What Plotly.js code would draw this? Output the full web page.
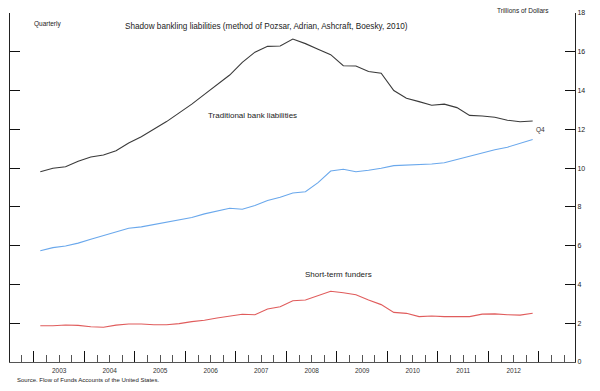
<!DOCTYPE html>
<html>
<head>
<meta charset="utf-8">
<script src="https://cdn.plot.ly/plotly-3.0.1.min.js"></script>
<style>html,body{margin:0;padding:0;background:#fff;}#chart{width:600px;height:391px;}</style>
</head>
<body>
<div id="chart"></div>
<script>
// Quarterly observations 2003Q1 .. 2012Q4
const years = [2003,2004,2005,2006,2007,2008,2009,2010,2011,2012];
const quarters = [1,2,3,4];
const yearLabels = ["2003","2004","2005","2006","2007","2008","2009","2010","2011","2012"];

const shadowBanking = [
  9.81, 9.99, 10.07, 10.35, 10.57, 10.68, 10.90, 11.30, 11.62, 12.00,
  12.40, 12.85, 13.30, 13.80, 14.30, 14.80, 15.45, 15.98, 16.28, 16.30,
  16.66, 16.42, 16.13, 15.85, 15.28, 15.27, 14.98, 14.89, 14.00, 13.60,
  13.43, 13.24, 13.30, 13.12, 12.72, 12.69, 12.62, 12.47, 12.39, 12.43
];
const traditionalBank = [
  5.74, 5.90, 5.98, 6.13, 6.33, 6.53, 6.71, 6.90, 6.97, 7.09,
  7.21, 7.31, 7.45, 7.64, 7.79, 7.93, 7.88, 8.07, 8.33, 8.50,
  8.72, 8.78, 9.25, 9.85, 9.94, 9.81, 9.89, 9.99, 10.13, 10.16,
  10.18, 10.21, 10.28, 10.45, 10.59, 10.78, 10.95, 11.08, 11.26, 11.48
];
const shortTermFunders = [
  1.87, 1.87, 1.91, 1.89, 1.82, 1.79, 1.90, 1.96, 1.96, 1.92,
  1.92, 1.98, 2.08, 2.15, 2.27, 2.38, 2.46, 2.44, 2.73, 2.85,
  3.16, 3.20, 3.42, 3.65, 3.57, 3.47, 3.20, 2.96, 2.56, 2.51,
  2.34, 2.37, 2.34, 2.34, 2.34, 2.47, 2.48, 2.44, 2.42, 2.51
];

// x position: middle of each quarter
const xq = [];
years.forEach(y => quarters.forEach(q => xq.push(y + (q - 0.5) / 4)));
const labelPos = years.map(y => y + 0.5);
const yearStarts = years.concat([2013]);

const FONT = "Liberation Sans, Arial, sans-serif";
const lineTrace = (y, color) => ({
  x: xq, y: y, type: "scatter", mode: "lines",
  line: {color: color, width: 1.1}, hoverinfo: "skip", showlegend: false
});

const data = [
  lineTrace(shadowBanking, "#3a3a3a"),
  lineTrace(traditionalBank, "#6aa8ec"),
  lineTrace(shortTermFunders, "#e05c5c"),
  {x: [null], y: [null], xaxis: "x2", yaxis: "y", type: "scatter", mode: "lines", showlegend: false, hoverinfo: "skip"}
];

const xr = [2002.525, 2013.713];
const layout = {
  width: 600, height: 391,
  margin: {l: 10, r: 25, t: 13, b: 29},
  paper_bgcolor: "#fff", plot_bgcolor: "#fff",
  font: {family: FONT, size: 7, color: "#222"},
  showlegend: false,
  xaxis: {
    range: xr, showgrid: false, zeroline: false,
    showline: true, linecolor: "#555", linewidth: 1,
    tickmode: "array", tickvals: labelPos, ticktext: yearLabels,
    ticks: "", ticklabelstandoff: 2, tickfont: {size: 6.5, color: "#333"}
  },
  xaxis2: {
    range: xr, overlaying: "x", anchor: "y", side: "bottom",
    showgrid: false, zeroline: false, showline: false, showticklabels: false,
    tickmode: "array", tickvals: yearStarts,
    ticks: "inside", ticklen: 11, tickcolor: "#111", tickwidth: 1,
    minor: {tickmode: "linear", tick0: 2003, dtick: 0.25, ticks: "inside", ticklen: 7, tickcolor: "#555", tickwidth: 1, showgrid: false}
  },
  yaxis: {
    range: [0, 18], side: "right", showgrid: false, zeroline: false,
    showline: true, linecolor: "#222", linewidth: 1, mirror: "ticks",
    tickmode: "linear", tick0: 0, dtick: 2,
    ticks: "inside", ticklen: 10, tickcolor: "#111", tickwidth: 1,
    tickfont: {size: 7, color: "#222"}
  },
  annotations: [
    {text: "Shadow bankling liabilities (method of Pozsar, Adrian, Ashcraft, Boesky, 2010)", x: 2007.6, y: 17.28, xref: "x", yref: "y", showarrow: false, font: {size: 8.2, color: "#222"}},
    {text: "Traditional bank liabilities", x: 2007.32, y: 12.69, xref: "x", yref: "y", showarrow: false, font: {size: 8, color: "#222"}},
    {text: "Short-term funders", x: 2009.02, y: 4.49, xref: "x", yref: "y", showarrow: false, font: {size: 8, color: "#222"}},
    {text: "Q4", x: 2013.02, y: 11.96, xref: "x", yref: "y", showarrow: false, font: {size: 6.5, color: "#333"}},
    {text: "Quarterly", x: 0.039, y: 0.986, xref: "paper", yref: "paper", xanchor: "left", showarrow: false, font: {size: 6.5, color: "#222"}},
    {text: "Trillions of Dollars", x: 0.9575, y: 1.023, xref: "paper", yref: "paper", showarrow: false, font: {size: 6.5, color: "#222"}},
    {text: "Source. Flow of Funds Accounts of the United States.", x: 0.0106, y: -0.052, xref: "paper", yref: "paper", xanchor: "left", yanchor: "middle", borderpad: 0, showarrow: false, font: {size: 6, color: "#222"}}
  ]
};

Plotly.newPlot("chart", data, layout, {staticPlot: true, displayModeBar: false});
</script>
</body>
</html>
